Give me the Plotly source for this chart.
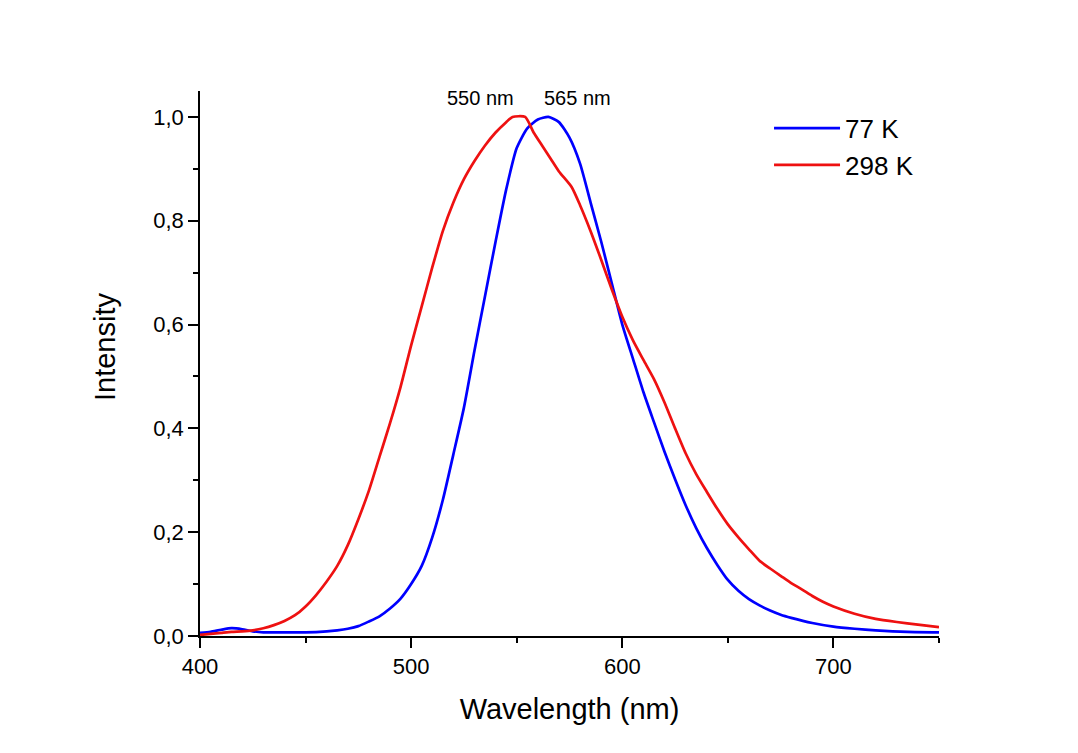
import plotly.graph_objects as go

# Wavelength grids (nm) and normalised intensities
wl_77 = [400, 405, 410, 415, 420, 425, 430, 440, 450, 460, 465, 470, 475, 480, 485,
         490, 495, 500, 505, 510, 515, 520, 525, 530, 535, 540, 545, 550, 555, 560,
         565, 570, 575, 580, 585, 590, 595, 600, 605, 610, 615, 620, 625, 630, 635,
         640, 645, 650, 655, 660, 665, 670, 675, 680, 690, 700, 710, 720, 735, 750]
int_77 = [0.006, 0.008, 0.012, 0.015, 0.013, 0.009, 0.007, 0.007, 0.007, 0.009, 0.011,
          0.014, 0.019, 0.028, 0.038, 0.053, 0.072, 0.10, 0.135, 0.19, 0.262, 0.35,
          0.44, 0.55, 0.655, 0.76, 0.86, 0.94, 0.978, 0.995, 1.0, 0.99, 0.96, 0.91,
          0.835, 0.76, 0.68, 0.60, 0.535, 0.47, 0.412, 0.355, 0.302, 0.252, 0.208, 0.17,
          0.137, 0.108, 0.087, 0.071, 0.059, 0.049, 0.041, 0.035, 0.025, 0.018, 0.014,
          0.011, 0.008, 0.007]

wl_298 = [400, 405, 410, 415, 420, 425, 430, 435, 440, 445, 450, 455, 460, 465, 470,
          475, 480, 485, 490, 495, 500, 505, 510, 515, 520, 525, 530, 535, 540, 545,
          548, 554, 558, 562, 566, 570, 576, 580, 585, 590, 595, 600, 605, 610, 615,
          620, 625, 630, 635, 640, 645, 650, 655, 660, 665, 670, 675, 680, 685, 690,
          695, 700, 710, 720, 730, 740, 750]
int_298 = [0.002, 0.004, 0.006, 0.008, 0.009, 0.011, 0.015, 0.021, 0.029, 0.040, 0.057,
           0.079, 0.105, 0.135, 0.175, 0.225, 0.28, 0.345, 0.41, 0.48, 0.56, 0.635,
           0.71, 0.78, 0.835, 0.88, 0.915, 0.945, 0.97, 0.99, 1.0, 1.0, 0.97, 0.945,
           0.92, 0.895, 0.865, 0.83, 0.78, 0.725, 0.668, 0.615, 0.57, 0.532, 0.495,
           0.45, 0.40, 0.352, 0.312, 0.278, 0.245, 0.215, 0.19, 0.167, 0.145, 0.13,
           0.116, 0.102, 0.09, 0.077, 0.066, 0.057, 0.043, 0.033, 0.027, 0.022, 0.017]

series_names = ["77 K", "298 K"]
peak_labels = ["550 nm", "565 nm"]
peak_label_x = [532.8, 578.8]
peak_label_y = 1.036

FONT = "Arial, Liberation Sans, sans-serif"

# page body has an 8 px offset, so margins are shifted by it
L, T = 192, 83
PW, PH = 739, 545
R = 1078 - L - PW
B = 753 - T - PH

fig = go.Figure()
fig.add_trace(go.Scatter(x=wl_77, y=int_77, mode="lines", name=series_names[0],
                         line=dict(color="#0000ff", width=2.7, shape="spline", smoothing=0.6)))
fig.add_trace(go.Scatter(x=wl_298, y=int_298, mode="lines", name=series_names[1],
                         line=dict(color="#ee1111", width=2.7, shape="spline", smoothing=0.6)))

for txt, xv in zip(peak_labels, peak_label_x):
    fig.add_annotation(x=xv, y=peak_label_y, xref="x", yref="y", text=txt,
                       showarrow=False, font=dict(family=FONT, size=20, color="black"),
                       xanchor="center", yanchor="middle")

# y-axis title placed like the reference (pixel centre 105, 347 in the reference)
fig.add_annotation(x=(105 - 200) / PW, y=(636 - 347) / PH, xref="paper", yref="paper",
                   text="Intensity", showarrow=False, textangle=-90,
                   font=dict(family=FONT, size=29, color="black"),
                   xanchor="center", yanchor="middle")

fig.update_layout(
    width=1078, height=753,
    margin=dict(l=L, r=R, t=T, b=B, autoexpand=False),
    paper_bgcolor="white", plot_bgcolor="white",
    separators=", ",
    font=dict(family=FONT, color="black"),
    showlegend=True,
    legend=dict(x=0.77, y=0.975, xanchor="left", yanchor="top",
                font=dict(family=FONT, size=26, color="black"),
                bgcolor="rgba(0,0,0,0)", itemwidth=66, tracegroupgap=0),
    xaxis=dict(range=[400, 750], showline=True, linecolor="black", linewidth=1.6,
               showgrid=False, zeroline=False, ticks="outside", ticklen=10,
               tickwidth=1.6, tickcolor="black", tick0=400, dtick=100,
               tickfont=dict(family=FONT, size=22, color="black"),
               minor=dict(ticks="outside", ticklen=5, tickwidth=1.6, tickcolor="black",
                          dtick=50, tick0=400, showgrid=False),
               title=dict(text="Wavelength (nm)", standoff=20,
                          font=dict(family=FONT, size=29, color="black"))),
    yaxis=dict(range=[0, 1.05], showline=True, linecolor="black", linewidth=1.6,
               showgrid=False, zeroline=False, ticks="outside", ticklen=10,
               tickwidth=1.6, tickcolor="black", tick0=0, dtick=0.2,
               tickformat=".1f",
               tickfont=dict(family=FONT, size=22, color="black"),
               minor=dict(ticks="outside", ticklen=5, tickwidth=1.6, tickcolor="black",
                          dtick=0.1, tick0=0, showgrid=False)),
)

fig.write_html("out.html")
